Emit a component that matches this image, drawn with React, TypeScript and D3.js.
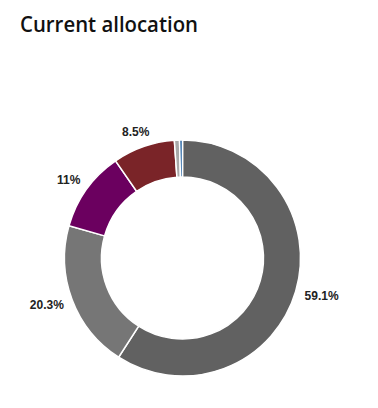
import React from "react";
import * as d3 from "d3";

const categories = ["A", "B", "C", "D", "E", "F"];
const values = [59.1, 20.3, 11, 8.5, 0.7, 0.4];
const labels = ["59.1%", "20.3%", "11%", "8.5%", "", ""];
const colors = ["#616161", "#767676", "#6b005f", "#7a2428", "#a9a9a9", "#1f5f9f"];

const charW: Record<string, number> = { ".": 0.278, "%": 0.889 };
const textWidth = (s: string, fs: number) =>
  s.split("").reduce((a, c) => a + (charW[c] ?? 0.556) * fs, 0);

export default function App() {
  const W = 378, H = 408;
  const cx = 182.5, cy = 258, R = 118, r = 81, labelR = 128, lh = 12, fs = 12;
  const pie = d3.pie<number>().value((d) => d).sort(null)(values);
  const arc = d3.arc<d3.PieArcDatum<number>>().innerRadius(r).outerRadius(R);
  return (
    <svg width={W} height={H} style={{ position: "absolute", left: 0, top: 0, background: "#fff" }}>
      <text x={20} y={32} fontFamily="'Open Sans', sans-serif" fontWeight={600} fontSize={21.5}
        textLength={178} lengthAdjust="spacingAndGlyphs" fill="#111">
        Current allocation
      </text>
      <g transform={`translate(${cx},${cy})`}>
        {pie.map((p, i) => (
          <path key={categories[i]} d={arc(p) || ""} fill={colors[i]} stroke="#fff" strokeWidth={1.5} />
        ))}
        {pie.map((p, i) => {
          if (!labels[i]) return null;
          const a = (p.startAngle + p.endAngle) / 2;
          const s = Math.sin(a), c = -Math.cos(a);
          const w = textWidth(labels[i], fs);
          const x = s * labelR + s * w / 2;
          const y = c * labelR + c * lh / 2;
          return (
            <text key={"l" + i} x={x} y={y} textAnchor="middle" dominantBaseline="central"
              fontFamily="'Liberation Sans', Arial, sans-serif" fontWeight={700} fontSize={fs} fill="#222">
              {labels[i]}
            </text>
          );
        })}
      </g>
    </svg>
  );
}
